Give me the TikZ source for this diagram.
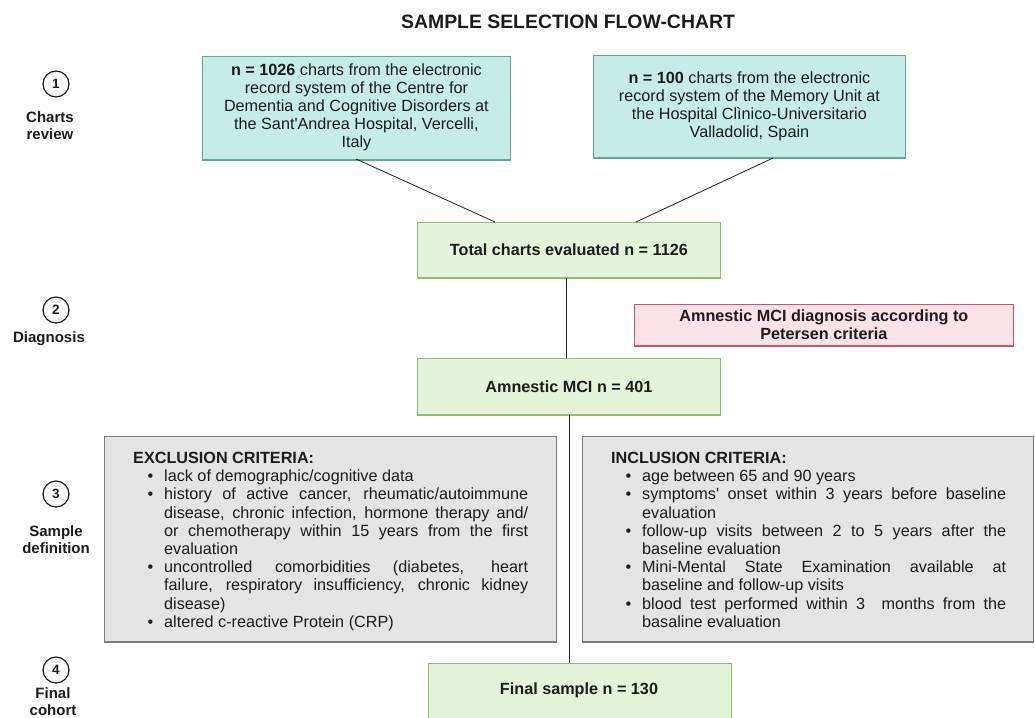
\documentclass[tikz,border=0pt]{standalone}
\usepackage{fontspec}
\setmainfont{Liberation Sans}[Ligatures=TeXOff]
\usepackage{enumitem}
\definecolor{tealfill}{HTML}{C6ECE7}
\definecolor{tealline}{HTML}{5FA89F}
\definecolor{greenfill}{HTML}{E4F4D9}
\definecolor{greenline}{HTML}{8FBD72}
\definecolor{pinkfill}{HTML}{FDE2E7}
\definecolor{pinkline}{HTML}{C9566E}
\definecolor{grayfill}{HTML}{E4E4E4}
\definecolor{grayline}{HTML}{7A7A7A}
\definecolor{ink}{HTML}{1C1C1C}
\begin{document}
\begin{tikzpicture}[x=1pt,y=-1pt,
  every node/.style={text=ink},
  boxbase/.style={draw, line width=0.8pt, inner sep=0pt, anchor=north west},
  tealbox/.style={boxbase, fill=tealfill, draw=tealline},
  greenbox/.style={boxbase, fill=greenfill, draw=greenline},
  pinkbox/.style={boxbase, fill=pinkfill, draw=pinkline},
  graybox/.style={boxbase, fill=grayfill, draw=grayline},
  shadowline/.style={line width=1.6pt},
  boxtext/.style={font=\fontsize{16.2}{18}\selectfont, align=center},
  boldtext/.style={font=\fontsize{16.2}{18}\selectfont\bfseries, align=center},
  connector/.style={draw=ink, line width=0.8pt},
  stepcirc/.style={circle, draw=ink, line width=1.2pt, minimum size=26pt, inner sep=0pt, font=\fontsize{13.5}{14}\selectfont\bfseries},
  steplabel/.style={font=\fontsize{15}{17}\selectfont\bfseries, align=center},
  critlist/.style={anchor=north west, inner sep=0pt, text width=395pt, font=\fontsize{16.2}{18.2}\selectfont, align=justify}
]
\useasboundingbox (0,0) rectangle (1035,717);

% title
\node[font=\fontsize{19.4}{22}\selectfont\bfseries] (title) at (568,22) {SAMPLE SELECTION FLOW-CHART};

% boxes
\node[tealbox, minimum width=308pt, minimum height=103pt] (b1) at (202,56) {};
\draw[tealline, shadowline] (b1.south west) -- (b1.south east);
\node[boxtext] (b1t) at ([yshift=1pt]b1.center) {\textbf{n = 1026} charts from the electronic\\ record system of the Centre for\\ Dementia and Cognitive Disorders at\\ the Sant'Andrea Hospital, Vercelli,\\ Italy};

\node[tealbox, minimum width=312pt, minimum height=102pt] (b2) at (593,55) {};
\draw[tealline, shadowline] (b2.south west) -- (b2.south east);
\node[boxtext] (b2t) at (b2.center) {\textbf{n = 100} charts from the electronic\\ record system of the Memory Unit at\\ the Hospital Clìnico-Universitario\\ Valladolid, Spain};

\node[greenbox, minimum width=303pt, minimum height=55pt] (tot) at (417,222) {};
\draw[greenline, shadowline] (tot.south west) -- (tot.south east);
\node[boldtext] (tott) at (tot.center) {Total charts evaluated n = 1126};

\node[pinkbox, minimum width=379pt, minimum height=41pt] (pink) at (634,304) {};
\draw[pinkline, shadowline] (pink.south west) -- (pink.south east);
\node[boldtext] (pinkt) at (pink.center) {Amnestic MCI diagnosis according to\\ Petersen criteria};

\node[greenbox, minimum width=303pt, minimum height=56pt] (amci) at (417,358) {};
\draw[greenline, shadowline] (amci.south west) -- (amci.south east);
\node[boldtext] (amcit) at (amci.center) {Amnestic MCI n = 401};

\node[graybox, minimum width=452pt, minimum height=205pt] (excl) at (104,436) {};
\draw[grayline, shadowline] (excl.south west) -- (excl.south east);
\node[graybox, minimum width=451pt, minimum height=205pt] (incl) at (582,436) {};
\draw[grayline, shadowline] (incl.south west) -- (incl.south east);

\node[greenbox, minimum width=303pt, minimum height=70pt] (fin) at (428,663) {};
\node[boldtext] (fint) at (579,690) {Final sample n = 130};

% connectors
\coordinate (c1a) at (356,159);
\coordinate (c1b) at (495,222);
\coordinate (c2a) at (773,158);
\coordinate (c2b) at (636,222);
\draw[connector] (c1a) -- (c1b);
\draw[connector] (c2a) -- (c2b);
\draw[connector] (tot.south -| 566,0) -- (amci.north -| 566,0);
\draw[connector] (amci.south -| 569,0) -- (fin.north -| 569,0);

% criteria text
\node[critlist] (exclt) at (133,452) {\hyphenpenalty=10000\exhyphenpenalty=10000%
\textbf{EXCLUSION CRITERIA:}
\begin{itemize}[nosep, leftmargin=31pt, labelsep=11pt, label={\textbullet}]
\item lack of demographic/cognitive data
\item history of active cancer, rheumatic/autoimmune\linebreak disease, chronic infection, hormone therapy and/\linebreak or chemotherapy within 15 years from the first\linebreak evaluation
\item uncontrolled comorbidities (diabetes, heart\linebreak failure, respiratory insufficiency, chronic kidney\linebreak disease)
\item altered c-reactive Protein (CRP)
\end{itemize}};

\node[critlist] (inclt) at (611,452) {\hyphenpenalty=10000\exhyphenpenalty=10000%
\textbf{INCLUSION CRITERIA:}
\begin{itemize}[nosep, leftmargin=31pt, labelsep=11pt, label={\textbullet}]
\item age between 65 and 90 years
\item symptoms' onset within 3 years before baseline\linebreak evaluation
\item follow-up visits between 2 to 5 years after the\linebreak baseline evaluation
\item Mini-Mental State Examination available at\linebreak baseline and follow-up visits
\item blood test performed within 3 \ months from the\linebreak basaline evaluation
\end{itemize}};

% step markers
\node[stepcirc] (s1) at (56,84) {1};
\node[steplabel] (s1l) at (50,126) {Charts\\review};
\node[stepcirc] (s2) at (56,310) {2};
\node[steplabel] (s2l) at (49,339) {Diagnosis};
\node[stepcirc] (s3) at (56,494) {3};
\node[steplabel] (s3l) at (56,540) {Sample\\definition};
\node[stepcirc] (s4) at (56,670) {4};
\node[steplabel] (s4l) at (53,702) {Final\\cohort};
\end{tikzpicture}
\end{document}
